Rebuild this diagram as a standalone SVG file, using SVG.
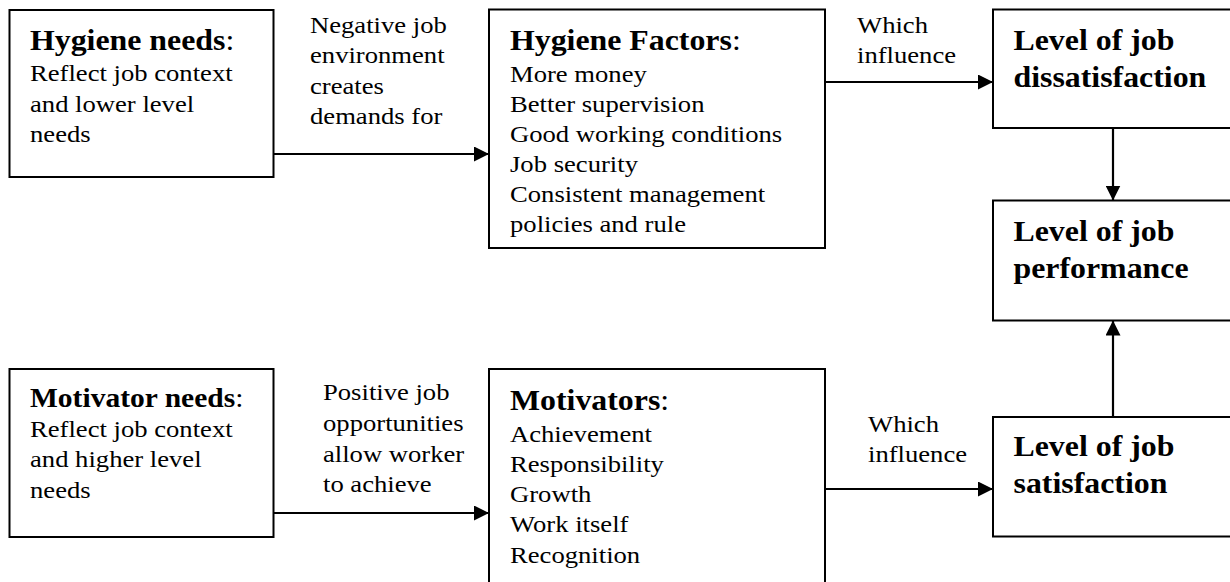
<svg xmlns="http://www.w3.org/2000/svg" width="1230" height="582" viewBox="0 0 1230 582">
  <defs>
    <style>
      .box { fill: #ffffff; stroke: #000000; stroke-width: 2; }
      .txt { font-family: "Liberation Serif", "Times New Roman", serif; font-size: 24px; fill: #000000; }
      .hd { font-weight: bold; font-size: 28.7px; }
      .hds { font-weight: bold; font-size: 26.6px; }
      .colon { font-weight: normal; }
      .conn { stroke: #000000; stroke-width: 2.2; fill: none; }
    </style>
    <marker id="arrow" markerUnits="userSpaceOnUse" markerWidth="16" markerHeight="15" refX="15" refY="7.5" orient="auto">
      <path d="M0,0 L15,7.5 L0,15 Z" fill="#000000"/>
    </marker>
  </defs>

  <rect x="0" y="0" width="1230" height="582" fill="#ffffff"/>

  <!-- connectors -->
  <g id="connectors">
    <line class="conn" x1="273.5" y1="154" x2="489" y2="154" marker-end="url(#arrow)"/>
    <line class="conn" x1="825" y1="82" x2="993" y2="82" marker-end="url(#arrow)"/>
    <line class="conn" x1="1113" y1="128" x2="1113" y2="200.5" marker-end="url(#arrow)"/>
    <line class="conn" x1="1113" y1="417" x2="1113" y2="320.5" marker-end="url(#arrow)"/>
    <line class="conn" x1="273.5" y1="513" x2="489" y2="513" marker-end="url(#arrow)"/>
    <line class="conn" x1="825" y1="489" x2="993" y2="489" marker-end="url(#arrow)"/>
  </g>

  <!-- connector labels -->
  <g id="labels">
    <text class="txt" transform="translate(310,0) scale(1.11,1)">
      <tspan x="0" y="33">Negative job</tspan>
      <tspan x="0" y="63.5">environment</tspan>
      <tspan x="0" y="94">creates</tspan>
      <tspan x="0" y="124.5">demands for</tspan>
    </text>
    <text class="txt" transform="translate(857,0) scale(1.11,1)">
      <tspan x="0" y="33">Which</tspan>
      <tspan x="0" y="63">influence</tspan>
    </text>
    <text class="txt" transform="translate(323,0) scale(1.11,1)">
      <tspan x="0" y="400">Positive job</tspan>
      <tspan x="0" y="431">opportunities</tspan>
      <tspan x="0" y="462">allow worker</tspan>
      <tspan x="0" y="492">to achieve</tspan>
    </text>
    <text class="txt" transform="translate(868,0) scale(1.11,1)">
      <tspan x="0" y="432">Which</tspan>
      <tspan x="0" y="462">influence</tspan>
    </text>
  </g>

  <!-- Hygiene needs -->
  <g id="hygiene-needs">
    <rect class="box" x="9.5" y="10" width="264" height="167"/>
    <text class="txt" transform="translate(30,0) scale(1.11,1)">
      <tspan x="0" y="50" class="hd">Hygiene needs<tspan class="colon">:</tspan></tspan>
      <tspan x="0" y="81">Reflect job context</tspan>
      <tspan x="0" y="112">and lower level</tspan>
      <tspan x="0" y="142">needs</tspan>
    </text>
  </g>

  <!-- Hygiene Factors -->
  <g id="hygiene-factors">
    <rect class="box" x="489" y="9.5" width="336" height="238.5"/>
    <text class="txt" transform="translate(510,0) scale(1.11,1)">
      <tspan x="0" y="50" class="hd">Hygiene Factors<tspan class="colon">:</tspan></tspan>
      <tspan x="0" y="82">More money</tspan>
      <tspan x="0" y="112">Better supervision</tspan>
      <tspan x="0" y="142">Good working conditions</tspan>
      <tspan x="0" y="172">Job security</tspan>
      <tspan x="0" y="202">Consistent management</tspan>
      <tspan x="0" y="232">policies and rule</tspan>
    </text>
  </g>

  <!-- Level of job dissatisfaction -->
  <g id="dissatisfaction">
    <rect class="box" x="993" y="9.5" width="240" height="118.5"/>
    <text class="txt hd" transform="translate(1013.5,0) scale(1.11,1)">
      <tspan x="0" y="50">Level of job</tspan>
      <tspan x="0" y="87">dissatisfaction</tspan>
    </text>
  </g>

  <!-- Level of job performance -->
  <g id="performance">
    <rect class="box" x="993" y="200.5" width="240" height="120"/>
    <text class="txt hd" transform="translate(1013.5,0) scale(1.11,1)">
      <tspan x="0" y="241">Level of job</tspan>
      <tspan x="0" y="278">performance</tspan>
    </text>
  </g>

  <!-- Level of job satisfaction -->
  <g id="satisfaction">
    <rect class="box" x="993" y="417" width="240" height="119.5"/>
    <text class="txt hd" transform="translate(1013.5,0) scale(1.11,1)">
      <tspan x="0" y="456">Level of job</tspan>
      <tspan x="0" y="493">satisfaction</tspan>
    </text>
  </g>

  <!-- Motivator needs -->
  <g id="motivator-needs">
    <rect class="box" x="9.5" y="369" width="264" height="168"/>
    <text class="txt" transform="translate(30,0) scale(1.11,1)">
      <tspan x="0" y="407" class="hds">Motivator needs<tspan class="colon">:</tspan></tspan>
      <tspan x="0" y="437">Reflect job context</tspan>
      <tspan x="0" y="467">and higher level</tspan>
      <tspan x="0" y="498">needs</tspan>
    </text>
  </g>

  <!-- Motivators -->
  <g id="motivators">
    <rect class="box" x="489" y="369" width="336" height="230"/>
    <text class="txt" transform="translate(510,0) scale(1.11,1)">
      <tspan x="0" y="410" class="hd">Motivators<tspan class="colon">:</tspan></tspan>
      <tspan x="0" y="442">Achievement</tspan>
      <tspan x="0" y="472">Responsibility</tspan>
      <tspan x="0" y="502">Growth</tspan>
      <tspan x="0" y="532">Work itself</tspan>
      <tspan x="0" y="563">Recognition</tspan>
    </text>
  </g>
</svg>
